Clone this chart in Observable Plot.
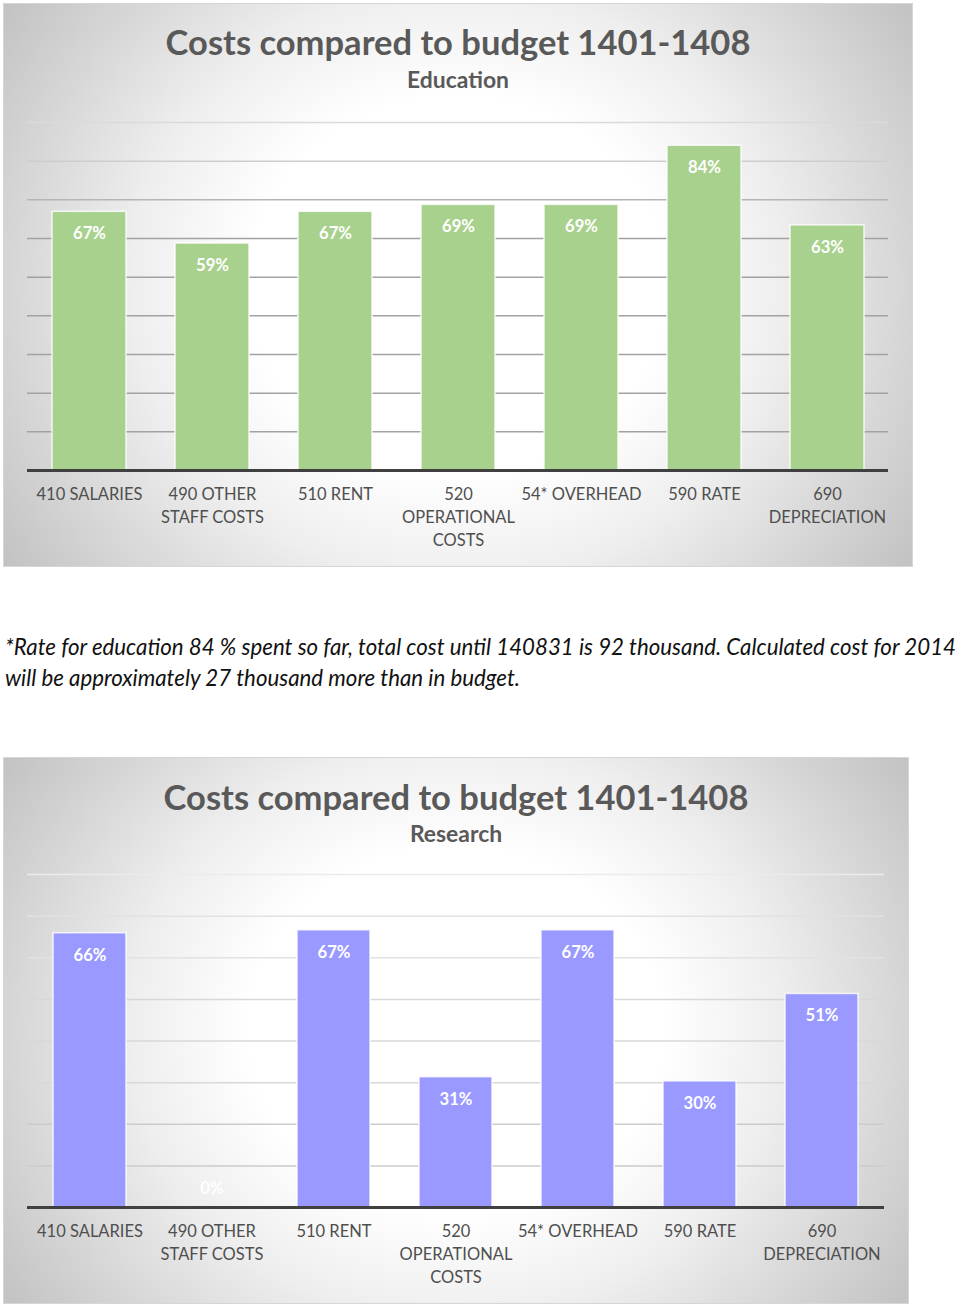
<!DOCTYPE html>
<html>
<head>
<meta charset="utf-8">
<script src="https://cdn.jsdelivr.net/npm/d3@7"></script>
<script src="https://cdn.jsdelivr.net/npm/@observablehq/plot@0.6"></script>
<style>
  html, body { margin: 0; padding: 0; background: #ffffff; }
  body { width: 960px; height: 1308px; position: relative; overflow: hidden; font-family: Lato, "Open Sans", sans-serif; }
  .panel { position: absolute; box-sizing: border-box; border: 1px solid #d6d6d6;
           background: radial-gradient(ellipse 60% 88% at 50% 50%, #ffffff 0%, #ffffff 38%, #eeeeee 60%, #d6d6d6 82%, #c3c3c3 100%); }
  .txt { position: absolute; white-space: nowrap; line-height: 1; }
  .chart { position: absolute; left: 0; }
</style>
</head>
<body>
<script>
// ---------------- data ----------------
const categories = ["410 SALARIES", "490 OTHER STAFF COSTS", "510 RENT", "520 OPERATIONAL COSTS", "54* OVERHEAD", "590 RATE", "690 DEPRECIATION"];
const tickLabels = ["410 SALARIES", "490 OTHER\nSTAFF COSTS", "510 RENT", "520\nOPERATIONAL\nCOSTS", "54* OVERHEAD", "590 RATE", "690\nDEPRECIATION"];
const educationValues = [0.669, 0.587, 0.669, 0.687, 0.687, 0.840, 0.634];
const researchValues = [0.659, 0.0, 0.666, 0.313, 0.666, 0.303, 0.513];
const educationGrid = [0.1, 0.2, 0.3, 0.4, 0.5, 0.6, 0.7, 0.8, 0.9];
const researchGrid = [0.1, 0.2, 0.3, 0.4, 0.5, 0.6, 0.7, 0.8];
const chartTitle = "Costs compared to budget 1401-1408";
const educationSubtitle = "Education";
const researchSubtitle = "Research";
const noteLine1 = "*Rate for education 84 % spent so far, total cost until 140831 is 92 thousand. Calculated cost for 2014";
const noteLine2 = "will be approximately 27 thousand more than in budget.";

// ---------------- helpers ----------------
const FAMILY = "Lato";
const ctx = document.createElement("canvas").getContext("2d");
function fitSize(text, style, target) {
  ctx.font = `${style} 100px ${FAMILY}`;
  return 100 * target / ctx.measureText(text).width;
}
function addText(text, {left, width, centerY, size, weight = "normal", italic = false, color = "#595959", align = "left"}) {
  const d = document.createElement("div");
  d.className = "txt";
  d.textContent = text;
  d.style.fontSize = size + "px";
  d.style.fontWeight = weight;
  d.style.fontStyle = italic ? "italic" : "normal";
  d.style.color = color;
  d.style.left = left + "px";
  if (width != null) { d.style.width = width + "px"; d.style.textAlign = align; }
  d.style.top = (centerY - 0.527 * size) + "px";
  document.body.appendChild(d);
}
function addPanel(left, top, width, height) {
  const p = document.createElement("div");
  p.className = "panel";
  Object.assign(p.style, {left: left + "px", top: top + "px", width: width + "px", height: height + "px"});
  document.body.appendChild(p);
}

const titleSize = fitSize(chartTitle, "bold", 585);
const subSize = fitSize(educationSubtitle, "bold", 102);
const axisSize = fitSize("410 SALARIES", "normal", 106);
const labelSize = fitSize("67%", "bold", 33);
const noteSize = fitSize(noteLine1, "italic", 953);
const fmt = d3.format(".0%");

function makeChart({values, grid, fill, gridColor, top, marginTop, plotHeight, marginRight}) {
  const data = categories.map((c, i) => ({c, v: values[i]}));
  const marginBottom = 90;
  const svg = Plot.plot({
    width: 960,
    height: marginTop + plotHeight + marginBottom,
    marginTop, marginBottom, marginLeft: 27, marginRight,
    style: {background: "transparent", fontFamily: `${FAMILY}, sans-serif`, color: "#4f4f4f", fontSize: axisSize + "px", overflow: "visible"},
    x: {domain: categories, paddingInner: 0.4, paddingOuter: 0.2, label: null, axis: null},
    y: {domain: [0, grid[grid.length - 1]], axis: null},
    marks: [
      Plot.ruleY(grid, {y: d => d, stroke: d => gridColor(d), strokeWidth: 1.5}),
      Plot.barY(data, {x: "c", y: "v", fill, stroke: "#ffffff", strokeWidth: 1.5, strokeOpacity: 0.8}),
      Plot.text(data.filter(d => d.v > 0), {x: "c", y: "v", text: d => fmt(d.v), dy: 22, fill: "#ffffff", fontWeight: "bold", fontSize: labelSize}),
      Plot.text(data.filter(d => d.v === 0), {x: "c", y: "v", text: d => fmt(d.v), dy: -19, fill: "#ffffff", fontWeight: "bold", fontSize: labelSize}),
      Plot.ruleY([0], {stroke: "#404040", strokeWidth: 3}),
      Plot.axisX({tickSize: 0, tickPadding: 19 - 0.35 * axisSize, fontSize: axisSize, lineHeight: 23 / axisSize,
                  tickFormat: d => tickLabels[categories.indexOf(d)], label: null})
    ]
  });
  const wrap = document.createElement("div");
  wrap.className = "chart";
  wrap.style.top = top + "px";
  wrap.appendChild(svg);
  document.body.appendChild(wrap);
}

// ---------------- panel 1: Education ----------------
addPanel(3, 3, 910, 564);
addText(chartTitle, {left: 3, width: 910, centerY: 43, size: titleSize, weight: "bold", align: "center"});
addText(educationSubtitle, {left: 3, width: 910, centerY: 80, size: subSize, weight: "bold", align: "center"});
makeChart({
  values: educationValues, grid: educationGrid, fill: "#a9d18e",
  gridColor: v => v >= 0.9 ? "#dadada" : v >= 0.8 ? "#cdcdcd" : v >= 0.7 ? "#b5b5b5" : "#a2a2a2",
  top: 100, marginTop: 22, plotHeight: 348, marginRight: 72
});

// ---------------- note ----------------
addText(noteLine1, {left: 5, centerY: 648, size: noteSize, italic: true, color: "#111111"});
addText(noteLine2, {left: 5, centerY: 679, size: noteSize, italic: true, color: "#111111"});

// ---------------- panel 2: Research ----------------
addPanel(3, 757, 906, 547);
addText(chartTitle, {left: 3, width: 906, centerY: 798, size: titleSize, weight: "bold", align: "center"});
addText(researchSubtitle, {left: 3, width: 906, centerY: 834, size: subSize, weight: "bold", align: "center"});
makeChart({
  values: researchValues, grid: researchGrid, fill: "#9999ff",
  gridColor: v => v >= 0.8 ? "#ebebeb" : v >= 0.6 ? "#e2e2e2" : v >= 0.3 ? "#d8d8d8" : "#cbcbcb",
  top: 850, marginTop: 24, plotHeight: 333, marginRight: 76
});
</script>
</body>
</html>
